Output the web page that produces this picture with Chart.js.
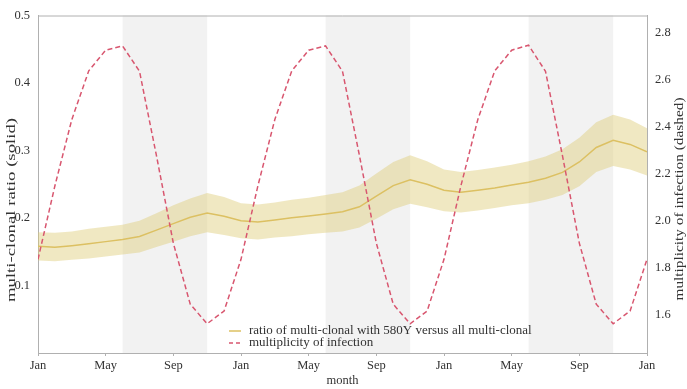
<!DOCTYPE html>
<html>
<head>
<meta charset="utf-8">
<script src="https://cdn.jsdelivr.net/npm/chart.js@4.4.1/dist/chart.umd.min.js"></script>
<style>
  html, body { margin: 0; padding: 0; background: #ffffff; }
  #wrap { width: 687px; height: 389px; position: relative; }
</style>
</head>
<body>
<div id="wrap"><canvas id="c" width="687" height="389"></canvas></div>
<script>
// ---- data ----
const months = [0,1,2,3,4,5,6,7,8,9,10,11,12,13,14,15,16,17,18,19,20,21,22,23,24,25,26,27,28,29,30,31,32,33,34,35,36];
const ratio = [0.158,0.1565,0.159,0.162,0.165,0.168,0.1725,0.182,0.1916,0.201,0.2075,0.2027,0.196,
               0.194,0.197,0.2003,0.203,0.206,0.2094,0.2166,0.2325,0.248,0.2565,0.250,0.241,
               0.238,0.241,0.2445,0.249,0.253,0.259,0.2675,0.283,0.3045,0.315,0.309,0.298];
const ratioUpper = [0.179,0.178,0.180,0.184,0.187,0.190,0.196,0.207,0.219,0.229,0.237,0.231,0.222,
                    0.220,0.223,0.227,0.230,0.234,0.238,0.248,0.266,0.283,0.293,0.284,0.272,
                    0.268,0.271,0.275,0.279,0.284,0.291,0.302,0.319,0.342,0.353,0.346,0.333];
const ratioLower = [0.137,0.136,0.138,0.140,0.143,0.146,0.149,0.157,0.165,0.173,0.179,0.175,0.170,
                    0.168,0.171,0.173,0.176,0.178,0.180,0.186,0.199,0.213,0.221,0.216,0.210,
                    0.208,0.211,0.215,0.219,0.222,0.227,0.234,0.247,0.268,0.277,0.272,0.263];
const moi = [1.837,2.150,2.432,2.639,2.727,2.745,2.637,2.279,1.906,1.646,1.563,1.617,
             1.837,2.150,2.432,2.639,2.727,2.745,2.637,2.279,1.906,1.646,1.563,1.617,
             1.837,2.150,2.432,2.639,2.727,2.748,2.637,2.279,1.906,1.646,1.563,1.617,1.837];
const xTickValues = [0,4,8,12,16,20,24,28,32,36];
const xTickLabels = ['Jan','May','Sep','Jan','May','Sep','Jan','May','Sep','Jan'];
const leftTicks = [0.1,0.2,0.3,0.4,0.5];
const rightTicks = [1.6,1.8,2.0,2.2,2.4,2.6,2.8];
const shadeStart = [5,17,29];
const shadeEnd = [10,22,34];
const legendLabels = ['ratio of multi-clonal with 580Y versus all multi-clonal','multiplicity of infection'];
const xTitle = 'month';
const yTitle = 'multi-clonal ratio (solid)';
const y2Title = 'multiplicity of infection (dashed)';

const FONT = "'Liberation Serif', 'DejaVu Serif', serif";
const TXT = '#333333';
const AXIS = '#b0b0b0';
const YEL = '#dcc062';
const BAND = 'rgba(221,205,120,0.45)';
const RED = '#d8566f';

const pts = arr => arr.map((v,i) => ({x: months[i], y: v}));

function vText(ctx, text, cx, cy, len) {
  ctx.save();
  ctx.font = "12px " + FONT;
  const w = ctx.measureText(text).width;
  ctx.translate(cx, cy);
  ctx.rotate(-Math.PI / 2);
  ctx.scale(len / w, 1);
  ctx.textAlign = 'center';
  ctx.textBaseline = 'middle';
  ctx.fillStyle = TXT;
  ctx.fillText(text, 0, 0);
  ctx.restore();
}

const shadePlugin = {
  id: 'shade',
  beforeDatasetsDraw(chart) {
    const {ctx, chartArea, scales} = chart;
    ctx.save();
    ctx.fillStyle = '#f2f2f2';
    for (let i = 0; i < shadeStart.length; i++) {
      const x0 = scales.x.getPixelForValue(shadeStart[i]);
      const x1 = scales.x.getPixelForValue(shadeEnd[i]);
      ctx.fillRect(x0, chartArea.top, x1 - x0, chartArea.bottom - chartArea.top);
    }
    ctx.restore();
  },
  afterDraw(chart) {
    const {ctx, chartArea} = chart;
    ctx.save();
    // top border
    ctx.strokeStyle = AXIS;
    ctx.lineWidth = 1;
    ctx.beginPath();
    ctx.moveTo(chartArea.left, chartArea.top + 0.5);
    ctx.lineTo(chartArea.right, chartArea.top + 0.5);
    ctx.stroke();
    // legend
    const lx = chartArea.left + 191;
    const ly = [chartArea.bottom - 22, chartArea.bottom - 10];
    ctx.font = "13px " + FONT;
    ctx.textBaseline = 'middle';
    ctx.fillStyle = TXT;
    ctx.strokeStyle = YEL; ctx.lineWidth = 1.5; ctx.setLineDash([]);
    ctx.beginPath(); ctx.moveTo(lx, ly[0]); ctx.lineTo(lx + 12, ly[0]); ctx.stroke();
    ctx.fillText(legendLabels[0], lx + 20, ly[0]);
    ctx.strokeStyle = RED; ctx.setLineDash([4,3]);
    ctx.beginPath(); ctx.moveTo(lx, ly[1]); ctx.lineTo(lx + 12, ly[1]); ctx.stroke();
    ctx.setLineDash([]);
    ctx.fillText(legendLabels[1], lx + 20, ly[1]);
    // axis titles
    ctx.font = "12.5px " + FONT;
    ctx.textAlign = 'center';
    ctx.textBaseline = 'middle';
    ctx.fillText(xTitle, (chartArea.left + chartArea.right) / 2, 381);
    ctx.restore();
    vText(ctx, yTitle, 12, 210, 184);
    vText(ctx, y2Title, 680, 199, 203);
  }
};

new Chart(document.getElementById('c'), {
  type: 'line',
  data: {
    datasets: [
      { label: 'upper', data: pts(ratioUpper), yAxisID: 'y', borderWidth: 0, pointRadius: 0,
        borderColor: 'rgba(0,0,0,0)', backgroundColor: BAND, fill: '+1', tension: 0, order: 3 },
      { label: 'lower', data: pts(ratioLower), yAxisID: 'y', borderWidth: 0, pointRadius: 0,
        borderColor: 'rgba(0,0,0,0)', backgroundColor: BAND, fill: false, tension: 0, order: 3 },
      { label: legendLabels[0], data: pts(ratio), yAxisID: 'y', borderWidth: 1.5, pointRadius: 0,
        borderColor: YEL, fill: false, tension: 0, order: 2 },
      { label: legendLabels[1], data: pts(moi), yAxisID: 'y2', borderWidth: 1.5, pointRadius: 0,
        borderColor: RED, borderDash: [5,3], fill: false, tension: 0, order: 1 }
    ]
  },
  options: {
    responsive: false,
    animation: false,
    devicePixelRatio: 1,
    layout: { padding: { top: 6, left: 0, right: 0, bottom: 0 } },
    plugins: { legend: { display: false }, tooltip: { enabled: false } },
    scales: {
      x: {
        type: 'linear', min: 0, max: 36,
        afterBuildTicks: s => { s.ticks = xTickValues.map(v => ({value: v})); },
        afterFit: s => { s.height = 36; },
        ticks: { padding: 2, color: TXT, font: { family: FONT, size: 12.5 },
                 callback: (v) => { const i = xTickValues.indexOf(v); return i >= 0 ? xTickLabels[i] : ''; },
                 maxRotation: 0, autoSkip: false },
        grid: { display: true, drawOnChartArea: false, drawTicks: true, tickLength: 3, color: AXIS },
        border: { display: true, color: AXIS },
        title: { display: false }
      },
      y: {
        type: 'linear', position: 'left', min: 0, max: 0.5,
        afterBuildTicks: s => { s.ticks = leftTicks.map(v => ({value: v})); },
        afterFit: s => { s.width = 38; },
        ticks: { padding: 8, color: TXT, font: { family: FONT, size: 12.5 }, callback: v => v.toFixed(1) },
        grid: { display: false, drawTicks: false },
        border: { display: true, color: AXIS },
        title: { display: false }
      },
      y2: {
        type: 'linear', position: 'right', min: 1.4385, max: 2.8745,
        afterBuildTicks: s => { s.ticks = rightTicks.map(v => ({value: v})); },
        afterFit: s => { s.width = 40; },
        ticks: { padding: 8, color: TXT, font: { family: FONT, size: 12.5 }, callback: v => v.toFixed(1) },
        grid: { display: false, drawTicks: false },
        border: { display: true, color: AXIS },
        title: { display: false }
      }
    }
  },
  plugins: [shadePlugin]
});
</script>
</body>
</html>
